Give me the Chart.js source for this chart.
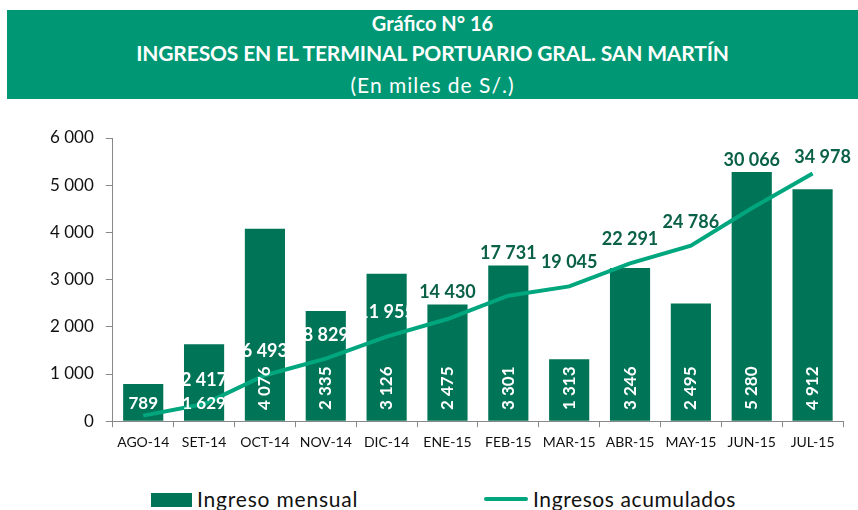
<!DOCTYPE html>
<html>
<head>
<meta charset="utf-8">
<script src="https://cdn.jsdelivr.net/npm/chart.js@4"></script>
<style>
  body { margin: 0; width: 858px; height: 510px; background: #fff; font-family: Lato, sans-serif; position: relative; overflow: hidden; }
  #banner { position: absolute; left: 7px; top: 10px; width: 851px; height: 89px; background: #009874; color: #fff; text-align: center; }
  #banner div { position: absolute; left: 0; right: 0; line-height: 24px; }
  #wrap { position: absolute; left: 0; top: 113px; width: 858px; height: 345px; }
  #legend { position: absolute; top: 487px; left: 0; width: 858px; height: 24px; font-size: 21px; color: #111; }
  .sw { position: absolute; }
  .lt { position: absolute; top: 0; line-height: 24px; }
</style>
</head>
<body>
<div id="banner">
  <div style="top:1px;font-size:20px;font-weight:bold;">Gráfico N° 16</div>
  <div style="top:31px;font-size:21px;font-weight:bold;letter-spacing:-0.15px;">INGRESOS EN EL TERMINAL PORTUARIO GRAL. SAN MARTÍN</div>
  <div style="top:63px;font-size:21px;letter-spacing:1px;">(En miles de S/.)</div>
</div>
<div id="wrap"><canvas id="chart"></canvas></div>
<div id="legend">
  <div class="sw" style="left:151px;top:6px;width:41px;height:14px;background:#007456;"></div>
  <div class="lt" style="left:197px;letter-spacing:0.8px;">Ingreso mensual</div>
  <div class="sw" style="left:484px;top:10px;width:44px;height:4px;background:#00a67e;border-radius:2px;"></div>
  <div class="lt" style="left:533px;letter-spacing:0.6px;">Ingresos acumulados</div>
</div>
<script>
// --- DATA ---
const months = ['AGO-14', 'SET-14', 'OCT-14', 'NOV-14', 'DIC-14', 'ENE-15', 'FEB-15', 'MAR-15', 'ABR-15', 'MAY-15', 'JUN-15', 'JUL-15'];
const monthlyIncome = [789, 1629, 4076, 2335, 3126, 2475, 3301, 1313, 3246, 2495, 5280, 4912];
const cumulativeIncome = [789, 2417, 6493, 8829, 11955, 14430, 17731, 19045, 22291, 24786, 30066, 34978];
const yTicks = [0, 1000, 2000, 3000, 4000, 5000, 6000];

const barColor = '#007456';
const lineColor = '#00a67e';
const darkLabel = '#0b6148';

function fmt(v) {
    return String(v).replace(/\B(?=(\d{3})+(?!\d))/g, ' ');
}

// draws the value labels on bars and line
const valueLabels = {
    id: 'valueLabels',
    afterDatasetsDraw(chart) {
        const ctx = chart.ctx;
        const barMeta = chart.getDatasetMeta(0);
        const lineMeta = chart.getDatasetMeta(1);
        const y0 = chart.scales.y.getPixelForValue(0);
        const last = lineMeta.data.length - 1;
        ctx.save();
        ctx.textBaseline = 'middle';

        // bar values
        ctx.font = 'bold 17px Lato';
        barMeta.data.forEach((bar, i) => {
            ctx.fillStyle = '#fff';
            if (i < 2) {
                ctx.textAlign = 'center';
                ctx.fillText(fmt(monthlyIncome[i]), bar.x, y0 - 18);
            } else {
                ctx.save();
                ctx.translate(bar.x, y0 - 33);
                ctx.rotate(-Math.PI / 2);
                ctx.textAlign = 'center';
                ctx.fillText(fmt(monthlyIncome[i]), 0, 0);
                ctx.restore();
            }
        });

        // cumulative values (first one coincides with the bar label)
        ctx.font = 'bold 18px Lato';
        lineMeta.data.forEach((pt, i) => {
            if (i === 0) return;
            const barTop = barMeta.data[i].y;
            let y = pt.y - (i === last ? 16 : 24);
            let x = pt.x + (i === last ? 10 : 0);
            ctx.textAlign = 'center';
            if (i < 5) {
                ctx.fillStyle = '#fff';
            } else {
                ctx.fillStyle = darkLabel;
                y = Math.min(y, barTop - 12);
            }
            ctx.fillText(fmt(cumulativeIncome[i]), x, y);
        });
        ctx.restore();
    }
};

new Chart(document.getElementById('chart'), {
    type: 'bar',
    data: {
        labels: months,
        datasets: [{
            label: 'Ingreso mensual',
            data: monthlyIncome,
            backgroundColor: barColor,
            barPercentage: 0.66,
            categoryPercentage: 1,
            yAxisID: 'y',
            order: 2
        }, {
            type: 'line',
            label: 'Ingresos acumulados',
            data: cumulativeIncome,
            borderColor: lineColor,
            borderWidth: 4,
            pointRadius: 0,
            tension: 0,
            yAxisID: 'y1',
            order: 1
        }]
    },
    options: {
        responsive: true,
        maintainAspectRatio: false,
        animation: false,
        layout: { padding: { left: 38, right: 15, top: 25, bottom: 0 } },
        plugins: {
            legend: { display: false },
            tooltip: { enabled: false }
        },
        scales: {
            x: {
                grid: { drawOnChartArea: false, color: '#888', tickLength: 6 },
                border: { color: '#888' },
                ticks: { color: '#111', font: { family: 'Lato', size: 14 }, padding: 7, maxRotation: 0, autoSkip: false }
            },
            y: {
                min: 0,
                max: 6000,
                afterBuildTicks: axis => { axis.ticks = yTicks.map(v => ({ value: v })); },
                grid: { drawOnChartArea: false, color: '#888', tickLength: 7 },
                border: { color: '#888' },
                ticks: { color: '#111', font: { family: 'Lato', size: 17 }, padding: 12, callback: v => fmt(v) }
            },
            y1: {
                display: false,
                min: 0,
                max: 40000
            }
        }
    },
    plugins: [valueLabels]
});
</script>
</body>
</html>
